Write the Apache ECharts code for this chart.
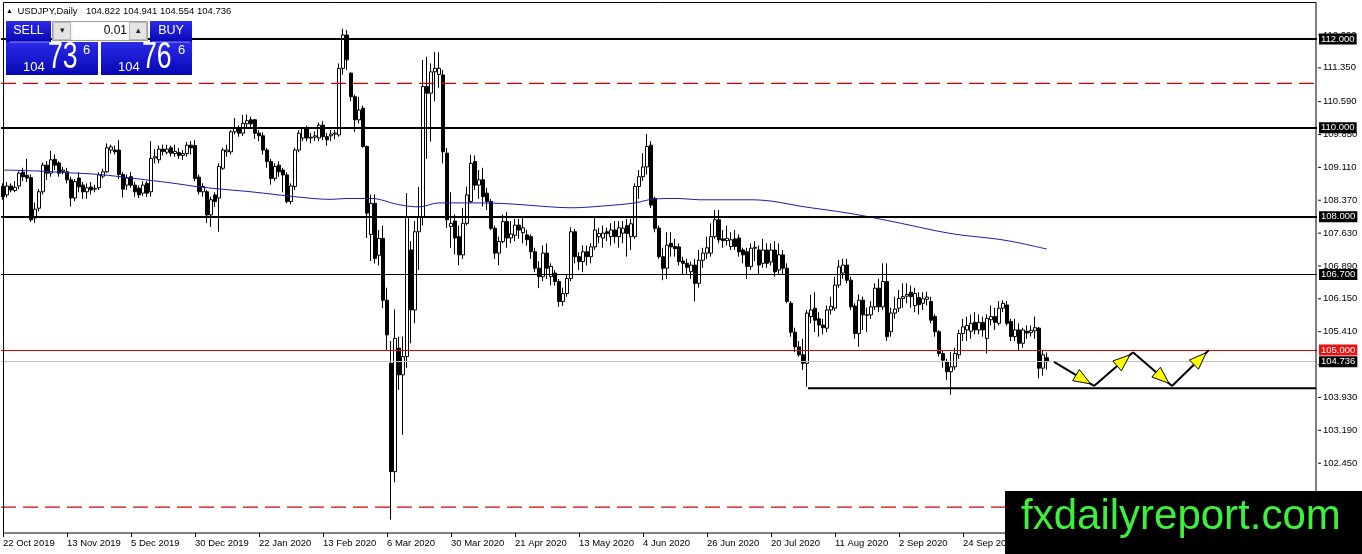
<!DOCTYPE html>
<html><head><meta charset="utf-8">
<script src="https://cdn.jsdelivr.net/npm/echarts@6/dist/echarts.min.js"></script>
<style>html,body{margin:0;padding:0;background:#fff;overflow:hidden}#c{width:1362px;height:554px}</style>
</head><body><div id="c"></div>
<script>
// ---------------- data ----------------
const dateLabels = ['22 Oct 2019','13 Nov 2019','5 Dec 2019','30 Dec 2019','22 Jan 2020','13 Feb 2020','6 Mar 2020','30 Mar 2020','21 Apr 2020','13 May 2020','4 Jun 2020','26 Jun 2020','20 Jul 2020','11 Aug 2020','2 Sep 2020','24 Sep 2020','16 Oct 2020'];
const priceTicks = [112.09,111.35,110.59,109.85,109.11,108.37,107.63,106.89,106.15,105.41,104.67,103.93,103.19,102.45,101.71,100.97];

const opens = [
108.68,108.49,108.69,108.59,108.69,109.00,108.93,108.88,107.97,108.19,
108.56,109.16,108.98,109.29,109.21,109.02,109.01,108.83,108.42,108.87,
108.71,108.56,108.67,108.62,108.65,108.91,109.01,109.50,109.50,109.50,
108.95,108.71,108.90,108.71,108.64,108.53,108.75,108.56,109.32,109.28,
109.52,109.45,109.55,109.42,109.44,109.38,109.42,109.61,109.60,108.89,
108.56,108.56,108.04,108.49,108.42,109.09,109.46,109.46,109.91,109.99,
109.88,110.09,110.18,110.18,109.88,109.82,109.50,109.24,108.86,109.16,
109.05,108.94,108.34,108.68,109.50,109.77,109.99,109.77,109.79,109.77,
110.06,109.80,109.82,109.86,109.84,111.34,112.09,111.23,110.70,110.18,
110.44,109.58,107.60,108.30,107.13,107.51,106.12,104.70,102.26,105.04,
104.44,104.85,107.25,105.90,107.66,108.00,110.93,110.78,111.26,111.20,
111.19,109.43,107.78,107.90,107.55,107.14,107.85,108.34,109.24,108.71,
108.83,108.53,108.34,107.74,107.18,107.44,107.89,107.52,107.58,107.81,
107.64,107.59,107.55,107.21,106.84,106.65,107.18,106.65,106.73,106.54,
106.09,106.27,106.61,107.66,107.10,106.99,107.21,107.10,107.32,107.55,
107.52,107.66,107.55,107.70,107.55,107.63,107.80,107.55,107.55,108.68,
108.90,109.12,109.61,108.41,107.74,107.10,106.84,107.40,107.33,107.32,
107.00,106.95,106.76,106.91,106.50,107.02,107.18,107.18,107.55,107.93,
107.50,107.46,107.33,107.50,107.52,107.25,107.21,106.88,107.29,107.25,
106.95,107.25,106.98,107.25,106.80,107.14,106.84,106.05,105.40,105.07,
104.89,104.70,105.75,105.94,105.70,105.56,105.49,105.90,105.94,106.46,
106.73,106.91,106.57,105.99,105.37,106.12,105.79,105.79,105.97,106.39,
105.97,106.54,105.41,105.83,105.94,106.16,106.21,106.30,106.00,106.18,
106.05,106.14,106.09,105.75,105.41,104.92,104.74,104.51,104.62,104.89,
105.37,105.45,105.42,105.62,105.45,105.62,105.26,105.68,105.75,105.60,
105.94,106.01,105.64,105.30,105.45,105.15,105.42,105.39,105.43,105.49,
104.59,104.822];
const closes = [
108.45,108.69,108.60,108.66,108.98,108.90,108.87,107.93,108.17,108.56,
109.16,108.98,109.28,109.16,108.98,109.05,108.83,108.42,108.79,108.67,
108.56,108.65,108.60,108.64,108.94,109.01,109.55,109.57,109.46,108.95,
108.62,108.87,108.71,108.56,108.49,108.71,108.53,109.31,109.35,109.52,
109.47,109.52,109.43,109.47,109.38,109.42,109.61,109.55,108.86,108.56,
108.68,108.04,108.38,108.34,109.13,109.50,109.50,109.91,109.99,109.88,
110.10,110.16,110.09,109.88,109.82,109.50,109.24,108.86,109.13,109.01,
108.94,108.34,108.69,109.50,109.88,109.99,109.77,109.79,109.82,110.06,
109.80,109.73,109.86,109.88,111.34,112.09,111.53,110.70,110.18,110.40,
109.58,108.08,108.30,107.06,107.51,106.12,105.34,102.26,105.26,104.44,
104.85,108.00,105.90,107.66,108.00,110.93,110.78,111.26,111.34,111.34,
109.46,107.93,107.85,107.52,107.14,107.85,108.49,109.20,108.71,108.83,
108.45,108.34,107.74,107.18,107.44,107.89,107.52,107.61,107.81,107.70,
107.75,107.48,107.21,106.84,106.65,107.18,106.84,106.88,106.54,106.09,
106.27,106.61,107.66,107.10,106.99,107.21,107.10,107.32,107.70,107.62,
107.63,107.62,107.70,107.55,107.75,107.74,107.62,107.84,108.68,108.90,
109.12,109.58,108.26,107.74,107.10,106.84,107.36,107.32,107.28,106.99,
106.95,106.86,106.91,106.50,107.02,107.18,107.30,107.55,107.93,107.48,
107.46,107.51,107.48,107.33,107.21,107.14,106.88,107.29,107.31,106.91,
107.25,106.95,107.25,106.76,107.14,106.84,106.09,105.40,105.07,104.89,
104.70,105.83,105.90,105.67,105.56,105.50,105.90,105.98,106.46,106.87,
106.91,106.57,105.97,105.37,106.12,105.79,105.78,105.97,106.39,105.97,
106.54,105.30,105.83,105.92,106.16,106.20,106.25,106.20,106.27,106.02,
106.15,106.19,105.67,105.41,104.92,104.77,104.51,104.62,104.92,105.37,
105.52,105.55,105.60,105.45,105.62,105.45,105.71,105.75,105.62,105.94,
106.05,105.60,105.30,105.45,105.15,105.45,105.38,105.44,105.50,104.59,
104.89,104.736];
const lows = [
108.38,108.43,108.55,108.55,108.62,108.80,108.78,107.88,107.86,108.12,
108.50,108.83,108.90,109.05,108.90,108.95,108.75,108.23,108.35,108.55,
108.40,108.40,108.50,108.55,108.60,108.86,108.98,109.42,109.40,108.85,
108.43,108.60,108.65,108.45,108.42,108.46,108.44,108.45,109.20,109.20,
109.38,109.40,109.35,109.35,109.30,109.28,109.35,109.40,108.80,108.50,
108.45,107.86,107.77,108.22,107.66,109.05,109.35,109.40,109.85,109.80,
109.82,110.00,109.98,109.75,109.70,109.40,109.10,108.72,108.80,108.90,
108.55,108.30,108.28,108.60,109.45,109.70,109.70,109.65,109.70,109.70,
109.72,109.60,109.70,109.75,109.80,111.20,111.30,110.60,109.91,110.10,
109.55,107.52,107.00,106.95,106.90,105.94,105.00,101.18,102.02,104.10,
103.09,104.60,105.15,105.60,106.80,107.80,109.30,109.69,110.60,110.90,
109.20,107.75,107.30,107.15,106.91,107.05,107.80,108.30,108.60,108.40,
108.23,108.15,107.70,107.05,106.91,107.40,107.30,107.40,107.45,107.50,
107.40,107.35,107.05,106.75,106.39,106.55,106.60,106.45,106.45,105.97,
105.99,106.20,106.55,106.95,106.80,106.75,106.90,106.95,107.25,107.40,
107.30,107.45,107.35,107.40,107.30,107.40,107.10,107.25,107.50,108.40,
108.80,108.95,108.20,107.65,107.05,106.57,106.60,107.10,107.10,106.90,
106.70,106.70,106.60,106.09,106.40,106.85,107.05,107.10,107.50,107.40,
107.30,107.35,107.25,107.25,107.10,106.95,106.60,106.80,107.00,106.70,
106.85,106.85,106.90,106.65,106.70,106.70,106.05,105.30,104.95,104.85,
104.55,104.17,105.60,105.40,105.30,105.35,105.40,105.80,105.88,106.40,
106.60,106.50,105.90,105.25,105.07,105.45,105.40,105.70,105.90,105.85,
105.90,105.20,105.30,105.70,105.85,105.95,106.05,105.95,105.85,105.80,
105.90,106.00,105.60,105.30,104.85,104.60,104.32,103.99,104.55,104.80,
105.20,105.20,105.25,105.35,105.35,105.30,104.92,105.55,105.45,105.55,
105.85,105.55,105.20,105.20,105.00,105.05,105.25,105.30,105.25,104.36,
104.42,104.554];
const highs = [
108.75,108.78,108.75,108.80,109.02,109.10,109.30,108.95,108.32,108.62,
109.22,109.25,109.48,109.40,109.25,109.12,109.10,108.90,108.85,109.00,
108.78,108.75,108.78,108.72,109.00,109.08,109.65,109.62,109.60,109.72,
109.00,108.95,109.00,108.78,108.70,108.80,108.80,109.70,109.52,109.60,
109.62,109.62,109.60,109.62,109.55,109.50,109.68,109.70,109.72,108.95,
108.75,108.60,108.45,108.55,109.20,109.55,109.62,109.95,110.22,110.05,
110.29,110.30,110.25,110.20,109.95,109.90,109.55,109.30,109.20,109.25,
109.10,109.00,108.75,109.55,109.95,110.02,110.05,109.88,109.92,110.12,
110.15,109.88,109.95,109.95,111.45,112.23,112.20,111.25,110.75,110.70,
110.50,109.60,108.50,108.50,107.70,107.80,106.40,105.20,105.91,105.30,
105.30,108.53,107.45,107.90,108.67,111.53,111.60,111.45,111.71,111.70,
111.30,109.55,108.55,108.05,107.80,108.20,108.68,109.39,109.38,109.05,
109.10,108.65,108.40,107.80,107.55,108.05,108.10,107.90,107.95,107.95,
108.00,107.70,107.60,107.30,107.00,107.35,107.40,106.95,106.80,106.60,
106.40,106.70,107.76,107.72,107.20,107.35,107.35,107.40,107.98,107.75,
107.80,107.75,107.85,107.90,107.90,107.90,107.95,107.95,108.75,109.05,
109.43,109.86,109.70,108.45,107.80,107.30,107.65,107.65,107.50,107.40,
107.10,107.05,106.99,107.05,107.25,107.30,107.55,107.85,108.15,108.15,
107.70,107.80,107.65,107.70,107.60,107.30,107.30,107.40,107.45,107.35,
107.50,107.40,107.40,107.45,107.40,107.25,106.95,106.10,105.50,105.20,
105.25,105.90,106.24,106.30,105.85,105.70,106.00,106.20,106.65,107.02,
107.05,107.05,106.65,106.05,106.25,106.20,105.95,106.10,106.50,106.60,
106.95,106.95,105.95,106.20,106.35,106.50,106.50,106.45,106.40,106.30,
106.30,106.31,106.20,105.80,105.45,105.00,104.80,104.95,105.05,105.45,
105.70,105.75,105.80,105.85,105.80,105.75,105.80,106.00,105.95,106.10,
106.12,106.10,105.70,105.70,105.60,105.50,105.55,105.55,105.75,105.52,
105.00,104.941];

// moving average: bar index / value
const maBars   = [0,8,16,24,33,42,50,62,74,82,86,92,99,104,109,115,124,137,142,150,158,163,169,174,187,193,199,212,224,237,249,254,261];
const maValues = [109.05,109.03,108.99,108.95,108.86,108.76,108.66,108.56,108.44,108.39,108.41,108.41,108.27,108.22,108.31,108.31,108.30,108.22,108.20,108.24,108.31,108.40,108.41,108.38,108.38,108.34,108.24,108.07,107.86,107.62,107.49,107.41,107.27];

// horizontal levels
const thickLevels = [112.0, 110.0, 108.0];
const dashedLevels = [111.0, 101.46];
const thinLevel = 106.7;
const redLevel = 105.0;
const bidPrice = 104.736;
const supportBars = [201.25, 328.25];
const supportPrice = 104.14;

// projected zig-zag
const arrowBars   = [262.75, 272.75, 282.5, 292.25, 301.5];
const arrowPrices = [104.73, 104.19, 104.95, 104.19, 105.00];

// ---------------- chart ----------------
const SLOTS = 329;
const FONT = 'Liberation Sans, Arial, sans-serif';
const categories = Array.from({length: SLOTS}, (_, i) => String(i));
const candleData = opens.map((o, i) => [o, closes[i], lows[i], highs[i]]);
const maData = maBars.map((b, i) => [b, maValues[i]]);
const segData = arrowBars.slice(0, -1).map((b, i) => [b, arrowPrices[i], arrowBars[i + 1], arrowPrices[i + 1]]);

function lvl(v, color, width, type, bg) {
  return {yAxis: v, lineStyle: {color: color, width: width, type: type}, label: {backgroundColor: bg}};
}
const markData = [];
thickLevels.forEach(v => markData.push(lvl(v, '#000', 2, 'solid', '#000')));
dashedLevels.forEach(v => markData.push({yAxis: v, lineStyle: {width: 0, opacity: 0}, label: {backgroundColor: '#ee1111'}}));
markData.push(lvl(thinLevel, '#000', 1, 'solid', '#000'));
markData.push(lvl(redLevel, '#e00000', 1, 'solid', '#ee1111'));
markData.push(lvl(bidPrice, '#c0c0c0', 1, 'solid', '#000'));

const dashedSeries = dashedLevels.map(v => ({
  type: 'line', xAxisIndex: 1, data: [[-0.5, v], [SLOTS - 0.5, v]], symbol: 'none', silent: true, z: 3,
  lineStyle: {color: '#d40000', width: 1.3, type: [15, 7]}
}));

function txt(text, x, y, size, color, align, sx) {
  return {type: 'text', z: 110, x: x, y: y, scaleX: sx || 1, style: {text: text, x: 0, y: 0, fill: color,
    font: size + 'px ' + FONT, fontSize: size, fontFamily: FONT,
    align: align || 'left', textAlign: align || 'left', verticalAlign: 'middle', textVerticalAlign: 'middle'}};
}
const blueGrad = {type: 'linear', x: 0, y: 0, x2: 0, y2: 1, colorStops: [{offset: 0, color: '#2b2bea'}, {offset: 1, color: '#0707b4'}]};
function rect(x, y, w, h, fill, stroke, z) {
  return {type: 'rect', z: z || 105, shape: {x: x, y: y, width: w, height: h}, style: {fill: fill, stroke: stroke || null, lineWidth: 1}};
}

const watermarkText = txt('fxdailyreport.com', 1021, 517, 42, '#3cf03c');
watermarkText.z = 121;

const graphics = [
  {type: 'rect', z: 50, shape: {x: 3.5, y: 2.5, width: 1312.5, height: 530.5}, style: {fill: 'none', stroke: '#000', lineWidth: 1}},
  txt('\u25B2', 6, 11, 7, '#000'),
  txt('USDJPY,Daily', 17.5, 11, 9.5, '#000'),
  txt('104.822 104.941 104.554 104.736', 86, 11, 9.5, '#000'),
  // one-click panel
  rect(6, 21, 45, 21, blueGrad),
  rect(6, 42, 92, 33, blueGrad),
  rect(150, 21, 42, 21, blueGrad),
  rect(101, 42, 91, 33, blueGrad),
  {type: 'line', z: 106, shape: {x1: 10, y1: 42, x2: 49, y2: 42}, style: {stroke: '#8f8ff5', lineWidth: 1}},
  {type: 'line', z: 106, shape: {x1: 152, y1: 42, x2: 190, y2: 42}, style: {stroke: '#8f8ff5', lineWidth: 1}},
  rect(52.5, 21.5, 95, 19, '#f0f0f0', '#a0a0a0'),
  rect(53.5, 22.5, 17, 17, '#e4e4e4', '#b8b8b8', 106),
  rect(72.5, 22.5, 56, 17, '#ffffff', null, 106),
  rect(129.5, 22.5, 17, 17, '#e4e4e4', '#b8b8b8', 106),
  txt('\u25BE', 62, 31, 9, '#222', 'center'),
  txt('\u25B4', 138, 31, 9, '#222', 'center'),
  txt('0.01', 127, 31, 12, '#000', 'right'),
  txt('SELL', 28.5, 31, 12.5, '#fff', 'center'),
  txt('BUY', 171, 31, 12.5, '#fff', 'center'),
  txt('104', 23, 67, 13, '#fff'),
  txt('73', 48, 58, 36, '#fff', 'left', 0.74),
  txt('6', 83, 50, 13, '#fff'),
  txt('104', 118, 67, 13, '#fff'),
  txt('76', 142, 58, 36, '#fff', 'left', 0.74),
  txt('6', 178, 50, 13, '#fff'),
  // watermark
  rect(1005, 491, 357, 63, '#000', null, 120),
  watermarkText
];

const option = {
  animation: false,
  backgroundColor: '#fff',
  textStyle: {fontFamily: FONT},
  grid: {left: 1, right: 45, top: 3, bottom: 21, containLabel: false, show: false},
  xAxis: [{
    type: 'category', data: categories, boundaryGap: true,
    axisLine: {show: false},
    axisTick: {show: true, alignWithLabel: true, length: 4, interval: i => i % 16 === 0, lineStyle: {color: '#000'}},
    axisLabel: {interval: i => i % 16 === 0, formatter: (v, i) => (i % 16 === 0 && dateLabels[i / 16]) ? dateLabels[i / 16] : '',
      align: 'left', margin: 5, color: '#000', fontSize: 9.5, fontFamily: FONT},
    splitLine: {show: false}
  }, {
    type: 'value', min: -0.5, max: SLOTS - 0.5, show: false, position: 'top'
  }],
  yAxis: {
    type: 'value', position: 'right', min: 100.879, max: 112.81, scale: true,
    axisLine: {show: false},
    axisTick: {show: false},
    axisLabel: {customValues: priceTicks, formatter: v => '{t|}{v|' + v.toFixed(3) + '}', margin: 1,
      rich: {t: {width: 3, height: 1, backgroundColor: '#000'}, v: {color: '#000', fontSize: 9.5, fontFamily: FONT, padding: [0, 0, 0, 2]}}},
    splitLine: {show: false}
  },
  graphic: {elements: graphics},
  series: [
    {
      type: 'candlestick', xAxisIndex: 0, data: candleData, barWidth: 3,
      itemStyle: {color: '#ffffff', color0: '#000000', borderColor: '#000', borderColor0: '#000', borderWidth: 1},
      markLine: {
        silent: true, symbol: ['none', 'none'], animation: false, precision: 3,
        label: {show: true, position: 'end', distance: 2, formatter: p => Number(p.value).toFixed(3),
          color: '#fff', fontSize: 9.5, fontFamily: FONT, padding: [1, 2, 0, 2]},
        data: markData
      }
    },
    {
      type: 'line', xAxisIndex: 1, data: maData, symbol: 'none', smooth: 0.35, silent: true,
      lineStyle: {color: '#1c1ca8', width: 1}, z: 3
    },
    ...dashedSeries,
    {
      type: 'line', xAxisIndex: 1, data: supportBars.map(b => [b, supportPrice]), symbol: 'none', silent: true,
      lineStyle: {color: '#000', width: 2}, z: 4
    },
    {
      type: 'custom', xAxisIndex: 1, data: segData, clip: false, z: 6, silent: true,
      encode: {x: [0, 2], y: [1, 3]},
      renderItem: function (params, api) {
        const a = api.coord([api.value(0), api.value(1)]);
        const b = api.coord([api.value(2), api.value(3)]);
        const dx = b[0] - a[0], dy = b[1] - a[1], L = Math.hypot(dx, dy);
        const ux = dx / L, uy = dy / L, nx = -uy, ny = ux;
        const tip = [b[0] - ux * 4, b[1] - uy * 4];
        const base = [tip[0] - ux * 17, tip[1] - uy * 17];
        return {type: 'group', children: [
          {type: 'line', shape: {x1: a[0], y1: a[1], x2: b[0], y2: b[1]}, style: {stroke: '#000', lineWidth: 2}},
          {type: 'polygon', shape: {points: [tip, [base[0] + nx * 6.5, base[1] + ny * 6.5], [base[0] - nx * 6.5, base[1] - ny * 6.5]]},
            style: {fill: '#ffff00', stroke: '#000', lineWidth: 1}}
        ]};
      }
    }
  ]
};
const chart = echarts.init(document.getElementById('c'));
chart.setOption(option);
</script>
</body></html>
